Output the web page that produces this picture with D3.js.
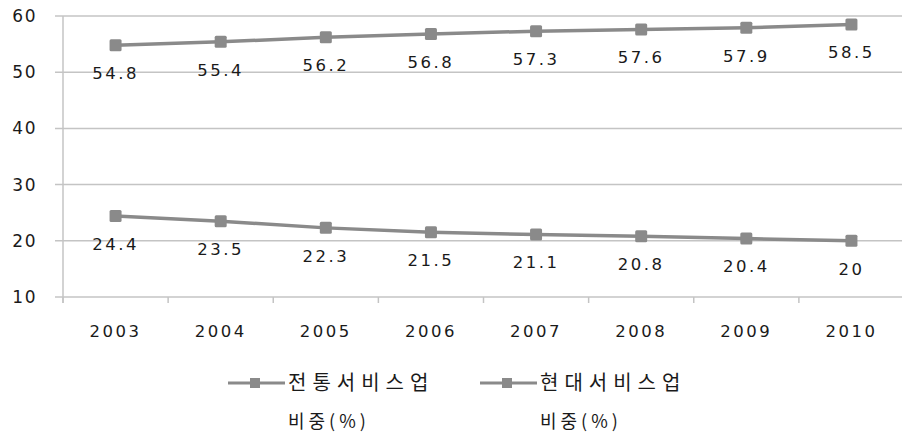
<!DOCTYPE html>
<html><head><meta charset="utf-8">
<script src="https://cdn.jsdelivr.net/npm/d3@7"></script>
<style>
html,body{margin:0;padding:0;background:#fff;}
svg{display:block;}
</style></head>
<body><svg id="chart" width="902" height="436"></svg>
<script>
const years = ["2003","2004","2005","2006","2007","2008","2009","2010"];
const traditional = [54.8,55.4,56.2,56.8,57.3,57.6,57.9,58.5];
const modern = [24.4,23.5,22.3,21.5,21.1,20.8,20.4,20];
const yTicks = [10,20,30,40,50,60];
const seriesNames = [["전통서비스업","비중(%)"],["현대서비스업","비중(%)"]];

(function(){
const svg = d3.select("#chart");
const pL = 63, pR = 904, pT = 16, pB = 297;
const x = d3.scaleBand().domain(years).range([pL, pR]);
const y = d3.scaleLinear().domain([10,60]).range([pB, pT]);
const font = "'DejaVu Sans', Verdana, sans-serif";
const gray = "#8a8a8a";
const ink = "#1a1a1a";

svg.append("g").selectAll("line").data(yTicks).join("line")
  .attr("x1", pL-8).attr("x2", 902)
  .attr("y1", d=>y(d)).attr("y2", d=>y(d))
  .attr("stroke", "#c4c4c4").attr("stroke-width", 1.5);

svg.append("line").attr("x1", pL).attr("x2", pL).attr("y1", pT).attr("y2", pB+6)
  .attr("stroke", "#c4c4c4").attr("stroke-width", 1.5);

svg.append("g").selectAll("text").data(yTicks).join("text")
  .attr("x", 37).attr("y", d=>y(d)).attr("dy","0.35em")
  .attr("text-anchor","end").attr("font-family", font).attr("font-size", 17)
  .attr("letter-spacing", 1.5).attr("fill",ink).text(d=>d);

const bounds = years.map(d=>x(d)).concat([x(years[years.length-1])+x.bandwidth()]);
svg.append("g").selectAll("line").data(bounds).join("line")
  .attr("x1", d=>d).attr("x2", d=>d).attr("y1", pB).attr("y2", pB+6)
  .attr("stroke", "#c4c4c4").attr("stroke-width", 1.5);

svg.append("g").selectAll("text").data(years).join("text")
  .attr("x", d=>x(d)+x.bandwidth()/2).attr("y", 331).attr("dy","0.35em")
  .attr("text-anchor","middle").attr("font-family", font).attr("font-size", 16.5)
  .attr("letter-spacing", 2.5).attr("fill",ink).text(d=>d);

const line = d3.line().x((d,i)=>x(years[i])+x.bandwidth()/2).y(d=>y(d));
[traditional, modern].forEach(data=>{
  svg.append("path").datum(data).attr("d", line).attr("fill","none")
    .attr("stroke", gray).attr("stroke-width", 3.5);
  svg.append("g").selectAll("rect").data(data).join("rect")
    .attr("x",(d,i)=>x(years[i])+x.bandwidth()/2-6).attr("y", d=>y(d)-6)
    .attr("width",12).attr("height",12).attr("rx",1.5).attr("fill", gray);
  svg.append("g").selectAll("text").data(data).join("text")
    .attr("x",(d,i)=>x(years[i])+x.bandwidth()/2).attr("y", d=>y(d)+28).attr("dy","0.35em")
    .attr("text-anchor","middle").attr("font-family", font).attr("font-size", 16.5)
    .attr("letter-spacing", 2.5).attr("fill",ink).text(d=>d);
});

const legX = [228, 480];
seriesNames.forEach((nm,i)=>{
  const g = svg.append("g").attr("transform", `translate(${legX[i]},383)`);
  g.append("line").attr("x1",0).attr("x2",57).attr("y1",0).attr("y2",0)
    .attr("stroke", gray).attr("stroke-width", 3);
  g.append("rect").attr("x",22).attr("y",-5).attr("width",10).attr("height",10).attr("fill", gray);
  g.append("text").attr("x",60).attr("y",0).attr("dy","0.35em")
    .attr("font-family","'Noto Sans CJK KR', sans-serif").attr("font-size",20)
    .attr("letter-spacing",6).attr("fill",ink).text(nm[0]);
  g.append("text").attr("x",60).attr("y",39).attr("dy","0.35em")
    .attr("font-family","'Noto Sans CJK KR', sans-serif").attr("font-size",18)
    .attr("letter-spacing",4).attr("fill",ink).text(nm[1]);
});
})();
</script></body></html>
